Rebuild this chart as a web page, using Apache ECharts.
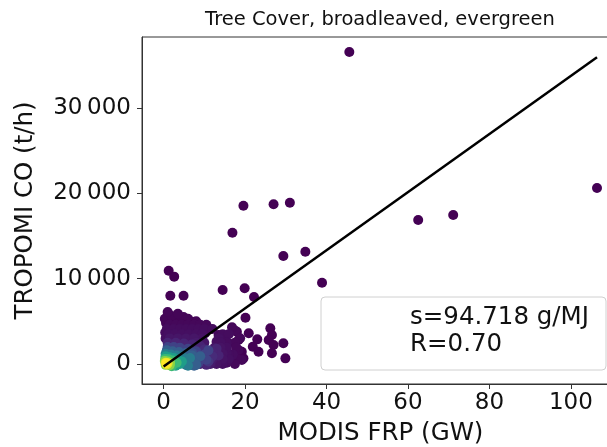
<!DOCTYPE html>
<html><head><meta charset="utf-8">
<script src="https://cdn.jsdelivr.net/npm/echarts@6/dist/echarts.min.js"></script>
<style>html,body{margin:0;padding:0;background:#fff}#c{width:607px;height:447px}</style>
</head><body><div id="c"></div><script>
const titleText = 'Tree Cover, broadleaved, evergreen';
const xName = 'MODIS FRP (GW)';
const yName = 'TROPOMI CO (t/h)';
const xTicks = [0, 20, 40, 60, 80, 100];
const yTicks = [0, 10000, 20000, 30000];

// Scatter: FRP (GW), CO (t/h), point density (0..1, colour)
const frp = [
  45.6, 106.4, 62.5, 71.1, 34.8, 38.9, 19.6, 27.0, 31.0, 16.9, 29.4, 1.25, 2.6, 1.65, 4.9, 14.5, 19.9, 22.2,
  20.1, 18.0, 20.9, 26.2, 26.6, 23.0, 18.4, 25.8, 29.4, 21.9, 27.0, 19.2, 23.3, 26.6, 29.9, 19.6,
  17.6, 16.8, 18.8, 16.0, 18.4, 16.8, 19.2, 11.0, 10.2, 13.5, 13.9, 1.2, 4.9, 3.2, 7.0, 0.6, 2.0, 3.5, 5.5,
  8.6, 1.2, 4.5, 6.8, 9.5, 0.4, 2.0, 3.8, 5.6, 7.5, 15.0, 14.5, 15.5, 17.0, 12.5, 15.5, 0.5, 2.5, 4.5, 6.5, 8.5, 13.0,
  1.5, 3.0, 4.5, 6.0, 7.5, 9.0, 10.5,
  0.8, 2.5, 4.0, 5.5, 7.0, 8.5, 10.0, 12.0,
  1.2, 2.8, 4.5, 6.2, 8.0, 9.5, 14.5, 16.0,
  1.5, 3.5, 5.5, 7.5, 9.5, 13.5,
  8.0, 10.0, 14.0, 15.5, 17.5,
  9.0, 12.5, 14.0, 15.5, 17.8,
  11.0, 13.0, 14.5, 16.0,
  10.0, 12.0, 14.5, 16.0, 18.0,
  9.0, 11.5, 13.0, 14.5, 17.5,
  0.3, 2.0, 3.5, 6.0, 8.0, 1.0,
  1.0, 3.0, 5.0, 7.0, 9.0, 13.0, 13.5, 11.5, 9.5, 12.0, 10.5, 12.0, 10.0,
  1.0, 2.5, 4.0, 6.0, 8.0, 10.0, 10.5, 8.5, 11.0, 11.0, 9.0,
  0.8, 2.2, 3.8, 5.5, 7.0, 8.0, 6.5, 9.0, 7.5, 7.0, 8.0,
  0.5, 1.8, 3.2, 4.5, 5.8, 5.0, 6.5, 6.0, 5.5,
  0.5, 1.5, 2.5, 3.5, 4.0, 4.5, 3.0,
  0.4, 1.2, 2.2, 2.5, 3.2, 2.0,
  0.3, 1.0, 1.6, 0.5, 1.5,
  0.5, 1.0, 0.8,
  0.7
];
const co = [
  36580, 20630, 16880, 17470, 13150, 9530, 18560, 18720, 18910, 15390, 12660, 10940, 10240, 8010, 8010, 8680, 8870, 7850,
  5420, 3790, 3600, 4180, 3400, 2890, 2810, 2810, 2430, 2030, 2230, 1440, 1440, 1250, 660, 660,
  3900, 4300, 3010, 2430, 1640, 670, 470, 4180, 3600, 3400, 470, 5860, 5500, 5200, 4960, 4800, 4900, 4700, 4700,
  4500, 4300, 4400, 4200, 4000, 3700, 3800, 3600, 3700, 3500, 3000, 2000, 1300, 1100, 100, 150, 3000, 3100, 3000, 3050, 2900, 2600,
  4600, 4600, 4600, 4600, 4600, 4600, 4600,
  4100, 4100, 4100, 4100, 4100, 4100, 4100, 4100,
  3500, 3500, 3500, 3500, 3500, 3500, 3500, 3500,
  3000, 3000, 3000, 3000, 3000, 3000,
  2500, 2500, 2500, 2500, 2500,
  1900, 1900, 1900, 1900, 1900,
  1200, 1200, 1200, 1200,
  600, 600, 600, 600, 600,
  0, 0, 0, 0, 0,
  5300, 5600, 5900, 5300, 5000, 6100,
  2500, 2500, 2400, 2300, 2100, 1800, 1000, 600, 300, 1400, -100, 900, 1700,
  2000, 2000, 1900, 1800, 1500, 1100, 500, 100, 1600, 300, 600,
  1600, 1500, 1400, 1300, 1000, 600, 200, 900, -200, 1300, -100,
  1200, 1100, 1000, 900, 600, 100, 700, -200, -100,
  900, 800, 700, 500, 0, 300, -200,
  600, 550, 400, 100, 150, -250,
  350, 300, 150, -100, -150,
  150, 100, -50,
  100
];
const density = [
  0, 0, 0, 0, 0, 0, 0, 0, 0, 0, 0, 0, 0, 0, 0, 0, 0, 0,
  0, 0, 0, 0, 0, 0, 0, 0, 0, 0, 0, 0, 0, 0, 0, 0,
  0.02, 0.02, 0.02, 0.02, 0.02, 0.02, 0.02, 0.02, 0.02, 0.02, 0.02, 0.01, 0.01, 0.01, 0.01, 0.01, 0.01, 0.01, 0.01,
  0.02, 0.02, 0.02, 0.02, 0.02, 0.03, 0.03, 0.03, 0.03, 0.03, 0.03, 0.04, 0.04, 0.03, 0.04, 0.03, 0.04, 0.04, 0.04, 0.04, 0.04, 0.04,
  0.02, 0.02, 0.02, 0.02, 0.02, 0.02, 0.02,
  0.03, 0.03, 0.03, 0.03, 0.03, 0.03, 0.03, 0.03,
  0.04, 0.04, 0.04, 0.04, 0.04, 0.04, 0.03, 0.03,
  0.06, 0.06, 0.06, 0.06, 0.05, 0.04,
  0.07, 0.06, 0.04, 0.03, 0.02,
  0.08, 0.06, 0.05, 0.04, 0.02,
  0.08, 0.06, 0.05, 0.03,
  0.09, 0.07, 0.05, 0.04, 0.02,
  0.09, 0.07, 0.05, 0.04, 0.02,
  0.01, 0.01, 0.01, 0.01, 0.01, 0.01,
  0.1, 0.1, 0.1, 0.1, 0.1, 0.1, 0.1, 0.1, 0.1, 0.1, 0.1, 0.12, 0.12,
  0.2, 0.2, 0.2, 0.2, 0.2, 0.2, 0.2, 0.2, 0.2, 0.15, 0.2,
  0.3, 0.3, 0.3, 0.3, 0.3, 0.3, 0.3, 0.3, 0.3, 0.25, 0.3,
  0.42, 0.42, 0.42, 0.42, 0.42, 0.42, 0.42, 0.42, 0.4,
  0.55, 0.55, 0.55, 0.55, 0.55, 0.55, 0.55,
  0.68, 0.68, 0.68, 0.68, 0.68, 0.68,
  0.82, 0.82, 0.82, 0.82, 0.82,
  0.95, 0.95, 0.95,
  1.0
];
const fitX = [0, 106.4];
const fitY = [-300, 35970];
const slopeText = 's=94.718 g/MJ';
const rText = 'R=0.70';

const points = frp.map((x, i) => [x, co[i], density[i]]).sort((a, b) => a[2] - b[2]);
const fitLine = fitX.map((x, i) => [x, fitY[i]]);
const viridis = ['#440154','#482878','#3e4989','#31688e','#26828e','#1f9e89','#35b779','#6ece58','#b5de2b','#fde725'];
const FONT = 'DejaVu Sans';
const fmtThousands = v => String(v).replace(/\B(?=(\d{3})+(?!\d))/g, '\u2009');

const chart = echarts.init(document.getElementById('c'), null, {renderer: 'canvas'});
chart.setOption({
  animation: false,
  backgroundColor: '#fff',
  textStyle: {fontFamily: FONT},
  grid: {left: 142, right: -12, top: 37, bottom: 63, show: true, borderColor: '#333', borderWidth: 1,
         outerBoundsMode: 'none', containLabel: false},
  xAxis: {
    type: 'value', min: -5.3, max: 111.8,
    name: xName, nameLocation: 'middle', nameGap: 37,
    nameTextStyle: {fontSize: 24.5, color: '#111', fontFamily: FONT},
    splitLine: {show: false},
    axisLine: {show: true, onZero: false, lineStyle: {color: '#333', width: 1}},
    axisTick: {show: true, length: 5, lineStyle: {color: '#333'}, customValues: xTicks},
    axisLabel: {fontSize: 23, color: '#111', margin: 8, fontFamily: FONT, customValues: xTicks, formatter: v => String(v)}
  },
  yAxis: {
    type: 'value', min: -2345, max: 38335,
    name: yName, nameLocation: 'middle', nameGap: 104, nameRotate: 90,
    nameTextStyle: {fontSize: 24.5, color: '#111', fontFamily: FONT},
    splitLine: {show: false},
    axisLine: {show: true, onZero: false, lineStyle: {color: '#333', width: 1}},
    axisTick: {show: true, length: 5, lineStyle: {color: '#333'}, customValues: yTicks},
    axisLabel: {fontSize: 23, color: '#111', margin: 11, fontFamily: FONT, customValues: yTicks, formatter: fmtThousands}
  },
  visualMap: {show: false, type: 'continuous', dimension: 2, min: 0, max: 1, seriesIndex: 0, inRange: {color: viridis}},
  series: [
    {type: 'scatter', data: points, symbol: 'circle', symbolSize: 10, itemStyle: {opacity: 1}, z: 2},
    {type: 'line', data: fitLine, symbol: 'none', lineStyle: {color: '#000', width: 2.5}, z: 3, silent: true}
  ],
  graphic: [
    {type: 'text', x: 380, y: 20, z: 10,
     style: {text: titleText, font: '19.5px "DejaVu Sans"', fill: '#111', textAlign: 'center', textVerticalAlign: 'middle'}},
    {type: 'rect', x: 321, y: 297, z: 10,
     shape: {width: 285, height: 73, r: 4},
     style: {fill: 'rgba(255,255,255,0.8)', stroke: '#d0d0d0', lineWidth: 1}},
    {type: 'text', x: 410, y: 318, z: 11,
     style: {text: slopeText, font: '24.5px "DejaVu Sans"', fill: '#111', textAlign: 'left', textVerticalAlign: 'middle'}},
    {type: 'text', x: 410, y: 345, z: 11,
     style: {text: rText, font: '24.5px "DejaVu Sans"', fill: '#111', textAlign: 'left', textVerticalAlign: 'middle'}}
  ]
});
</script></body></html>
